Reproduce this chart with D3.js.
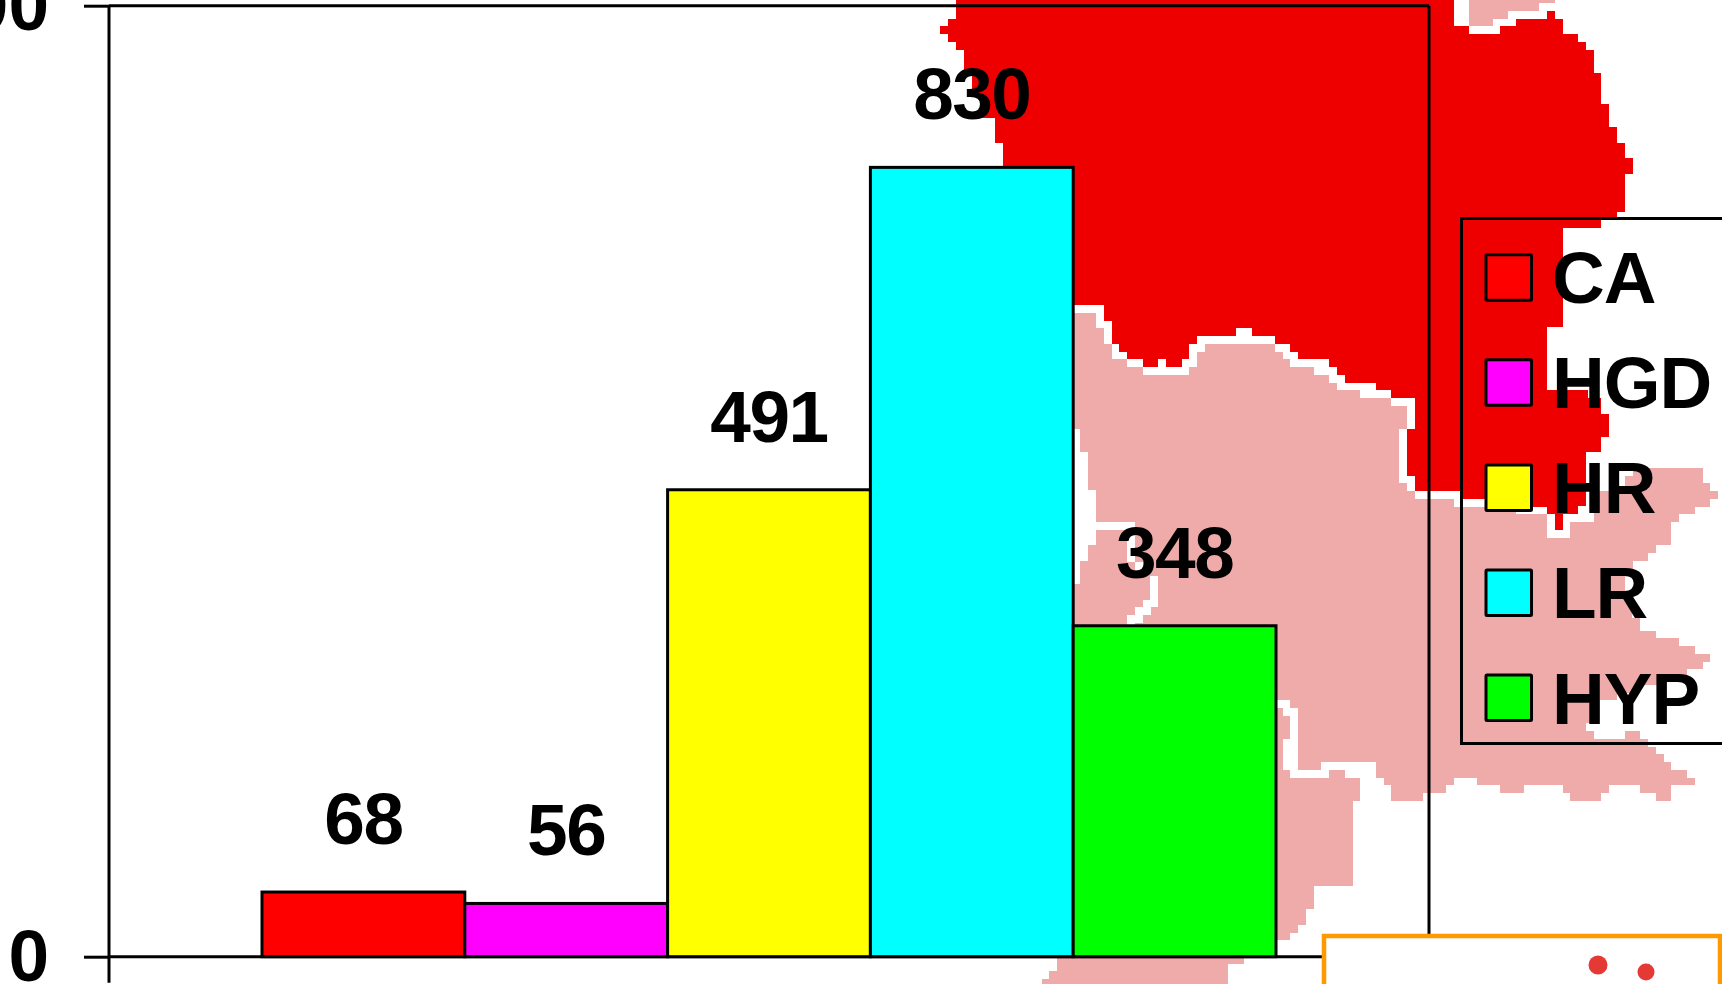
<!DOCTYPE html>
<html>
<head>
<meta charset="utf-8">
<script src="https://cdn.jsdelivr.net/npm/d3@7/dist/d3.min.js"></script>
<style>
html,body{margin:0;padding:0;background:#fff;overflow:hidden}
svg{display:block}
text{font-family:"Liberation Sans",Arial,sans-serif;font-weight:700;font-size:73px;fill:#000}
</style>
</head>
<body>
<svg id="chart" width="1722" height="984"></svg>
<script>
// Chart data
const categories = ["CA", "HGD", "HR", "LR", "HYP"];
const counts = [68, 56, 491, 830, 348];
const barColors = ["#ff0000", "#ff00ff", "#ffff00", "#00ffff", "#00ff00"];
const yTickValues = [0, 1000];

// Background picture behind the chart: pixel-stepped map regions
const mapRed = [[956,0],[956,19],[948,19],[948,26],[940,26],[940,34],[948,34],[948,42],[956,42],[956,50],[964,50],[964,72],[972,72],[972,95],[980,95],[980,118],[995,118],[995,143],[1003,143],[1003,305],[1104,305],[1104,321],[1112,321],[1112,344],[1119,344],[1119,352],[1127,352],[1127,359],[1143,359],[1143,367],[1158,367],[1158,359],[1166,359],[1166,367],[1182,367],[1182,359],[1189,359],[1189,344],[1197,344],[1197,336],[1236,336],[1236,328],[1252,328],[1252,336],[1275,336],[1275,344],[1290,344],[1290,352],[1298,352],[1298,359],[1329,359],[1329,367],[1337,367],[1337,375],[1345,375],[1345,383],[1376,383],[1376,390],[1391,390],[1391,398],[1415,398],[1415,429],[1407,429],[1407,476],[1415,476],[1415,491],[1461,491],[1461,499],[1500,499],[1500,507],[1547,507],[1547,514],[1555,514],[1555,530],[1563,530],[1563,514],[1578,514],[1578,506],[1586,506],[1586,452],[1601,452],[1601,437],[1609,437],[1609,414],[1601,414],[1601,398],[1588,398],[1588,390],[1547,390],[1547,327],[1563,327],[1563,228],[1601,228],[1601,220],[1617,220],[1617,212],[1625,212],[1625,174],[1633,174],[1633,158],[1625,158],[1625,143],[1617,143],[1617,127],[1609,127],[1609,104],[1601,104],[1601,73],[1594,73],[1594,50],[1586,50],[1586,42],[1578,42],[1578,34],[1563,34],[1563,19],[1555,19],[1555,11],[1547,11],[1547,19],[1516,19],[1516,26],[1500,26],[1500,34],[1469,34],[1469,26],[1454,26],[1454,0]];
const mapPinkTop = [[1469,0],[1555,0],[1555,3],[1539,3],[1539,11],[1508,11],[1508,19],[1493,19],[1493,26],[1469,26]];
const mapPinkMain = [[1070,313],[1096,313],[1096,328],[1104,328],[1104,344],[1112,344],[1112,359],[1127,359],[1127,367],[1143,367],[1143,375],[1189,375],[1189,367],[1197,367],[1197,352],[1205,352],[1205,344],[1275,344],[1275,352],[1283,352],[1283,359],[1290,359],[1290,367],[1314,367],[1314,375],[1329,375],[1329,383],[1337,383],[1337,390],[1360,390],[1360,398],[1391,398],[1391,406],[1407,406],[1407,429],[1399,429],[1399,483],[1407,483],[1407,491],[1415,491],[1415,499],[1454,499],[1454,507],[1516,507],[1516,514],[1547,514],[1547,538],[1570,538],[1570,522],[1594,522],[1594,491],[1625,491],[1625,476],[1633,476],[1633,468],[1703,468],[1703,483],[1710,483],[1710,491],[1718,491],[1718,499],[1710,499],[1710,507],[1695,507],[1695,514],[1679,514],[1679,522],[1671,522],[1671,545],[1656,545],[1656,553],[1648,553],[1648,561],[1633,561],[1633,570],[1625,570],[1625,600],[1632,600],[1632,618],[1640,618],[1640,631],[1656,631],[1656,638],[1679,638],[1679,646],[1695,646],[1695,654],[1710,654],[1710,662],[1703,662],[1703,669],[1687,669],[1687,677],[1665,677],[1665,685],[1640,685],[1640,693],[1617,693],[1617,700],[1600,700],[1600,723],[1586,723],[1586,731],[1594,731],[1594,739],[1625,739],[1625,731],[1640,731],[1640,739],[1648,739],[1648,747],[1656,747],[1656,754],[1664,754],[1664,762],[1671,762],[1671,770],[1687,770],[1687,778],[1695,778],[1695,785],[1671,785],[1671,801],[1656,801],[1656,793],[1640,793],[1640,785],[1609,785],[1609,793],[1601,793],[1601,801],[1570,801],[1570,793],[1563,793],[1563,785],[1524,785],[1524,793],[1500,793],[1500,785],[1477,785],[1477,778],[1454,778],[1454,785],[1446,785],[1446,793],[1423,793],[1423,801],[1391,801],[1391,785],[1384,785],[1384,778],[1376,778],[1376,762],[1321,762],[1321,770],[1298,770],[1298,708],[1290,708],[1290,700],[1270,700],[1270,640],[1135,640],[1135,623],[1143,623],[1143,615],[1151,615],[1151,607],[1158,607],[1158,576],[1143,576],[1143,562],[1135,562],[1135,522],[1096,522],[1096,490],[1088,490],[1088,452],[1080,452],[1080,429],[1070,429]];
const mapPinkChannel = [[1096,530],[1127,530],[1127,562],[1135,562],[1135,570],[1150,570],[1150,600],[1143,600],[1143,607],[1135,607],[1135,615],[1127,615],[1127,630],[1070,630],[1070,584],[1080,584],[1080,561],[1088,561],[1088,545],[1096,545]];
const mapPinkLower = [[1260,708],[1277,708],[1283,708],[1283,716],[1290,716],[1290,739],[1283,739],[1283,770],[1290,770],[1290,778],[1329,778],[1329,770],[1345,770],[1345,778],[1360,778],[1360,801],[1353,801],[1353,886],[1314,886],[1314,909],[1306,909],[1306,925],[1298,925],[1298,933],[1290,933],[1290,940],[1260,940]];
const mapPinkBottom = [[1057,950],[1244,950],[1244,964],[1228,964],[1228,984],[1042,984],[1042,979],[1049,979],[1049,971],[1057,971]];

const svg = d3.select("#chart");
const ink = 3;
const plot = {left: 109, right: 1429, top: 5.7, bottom: 956.7};

const y = d3.scaleLinear().domain([0, 1000]).range([plot.bottom, plot.top]);
const x = d3.scaleBand().domain(categories).range([262, 1276]).padding(0);
const color = d3.scaleOrdinal().domain(categories).range(barColors);
const outline = d3.line().curve(d3.curveLinearClosed);

// Background map
const mapLayer = svg.append("g").attr("shape-rendering", "crispEdges");
[mapPinkTop, mapPinkMain, mapPinkChannel, mapPinkLower, mapPinkBottom].forEach(p =>
  mapLayer.append("path").attr("d", outline(p)).attr("fill", "#efaaaa"));
mapLayer.append("path").attr("d", outline(mapRed)).attr("fill", "#ee0000");

// Plot frame
const frame = svg.append("g").attr("fill", "none").attr("stroke", "#000").attr("stroke-width", ink);
frame.append("line").attr("x1", plot.left).attr("x2", plot.right).attr("y1", y(1000)).attr("y2", y(1000));
frame.append("line").attr("x1", plot.left).attr("x2", plot.right).attr("y1", y(0)).attr("y2", y(0));
frame.append("line").attr("x1", plot.right).attr("x2", plot.right).attr("y1", y(1000)).attr("y2", y(0));
frame.append("line").attr("x1", plot.left).attr("x2", plot.left).attr("y1", y(1000)).attr("y2", y(0) + 26);

// Y axis
const axis = svg.append("g").attr("transform", `translate(${plot.left},0)`)
  .call(d3.axisLeft(y).tickValues(yTickValues).tickSize(25).tickSizeOuter(0).tickPadding(35).tickFormat(d3.format("d")));
axis.select(".domain").remove();
axis.selectAll(".tick line").attr("stroke", "#000").attr("stroke-width", ink);
axis.selectAll("text").attr("fill", "#000").attr("dy", "0.33em")
  .style("font-size", "73px").style("font-family", '"Liberation Sans",Arial,sans-serif').style("font-weight", 700);

// Bars
svg.append("g").selectAll("rect").data(categories).join("rect")
  .attr("x", d => x(d))
  .attr("y", (d, i) => y(counts[i]))
  .attr("width", x.bandwidth())
  .attr("height", (d, i) => y(0) - y(counts[i]))
  .attr("fill", d => color(d))
  .attr("stroke", "#000").attr("stroke-width", ink);

// Value labels
svg.append("g").selectAll("text").data(categories).join("text")
  .attr("x", d => x(d) + x.bandwidth() / 2)
  .attr("y", (d, i) => y(counts[i]) - 48)
  .attr("text-anchor", "middle")
  .style("letter-spacing", "-1.5px")
  .text((d, i) => counts[i]);

// Legend (transparent box running off the right edge)
const legend = svg.append("g");
legend.append("rect").attr("x", 1461.5).attr("y", 218.5).attr("width", 300).attr("height", 525)
  .attr("fill", "none").attr("stroke", "#000").attr("stroke-width", ink);
const legendRow = d3.scalePoint().domain(categories).range([277.8, 698]);
const rows = legend.selectAll("g").data(categories).join("g")
  .attr("transform", d => `translate(0,${legendRow(d)})`);
rows.append("rect").attr("x", 1486).attr("y", -23).attr("width", 45.5).attr("height", 45.5)
  .attr("rx", 1).attr("fill", d => color(d)).attr("stroke", "#000").attr("stroke-width", 3);
rows.append("text").attr("x", 1552).attr("y", 25.5).style("letter-spacing", "-1px").text(d => d);

// Inset panel clipped by the page edge
const inset = svg.append("g");
inset.append("rect").attr("x", 1324).attr("y", 936).attr("width", 396).attr("height", 100)
  .attr("fill", "#fff").attr("stroke", "#ff9900").attr("stroke-width", 4.5);
const insetDots = [[1598, 965, 9.5], [1646, 972, 8.5]];
inset.selectAll("circle").data(insetDots).join("circle")
  .attr("cx", d => d[0]).attr("cy", d => d[1]).attr("r", d => d[2]).attr("fill", "#e53935");
</script>
</body>
</html>
